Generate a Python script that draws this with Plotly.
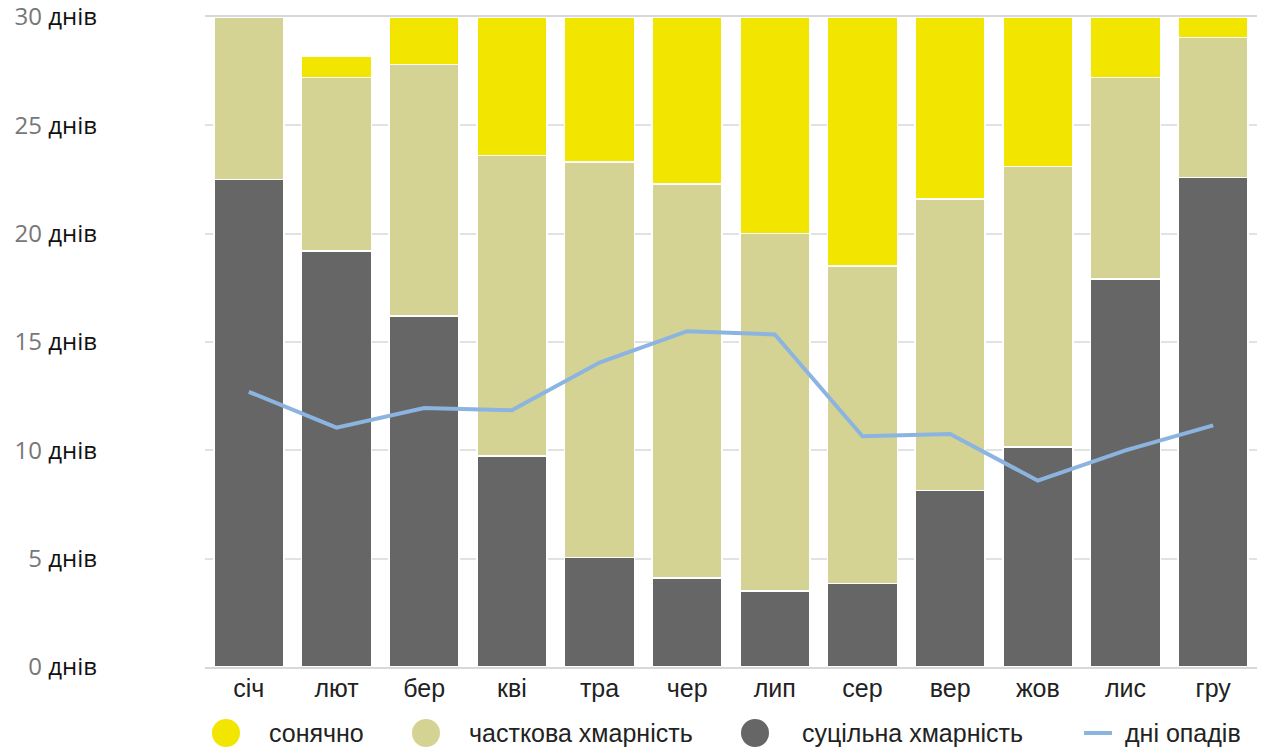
import plotly.graph_objects as go

# Monthly cloud-cover days and precipitation days
months = ["січ", "лют", "бер", "кві", "тра", "чер", "лип", "сер", "вер", "жов", "лис", "гру"]
overcast = [22.5, 19.2, 16.2, 9.75, 5.05, 4.1, 3.5, 3.85, 8.15, 10.15, 17.9, 22.6]
partly = [7.5, 8.0, 11.6, 13.85, 18.25, 18.2, 16.5, 14.65, 13.45, 12.95, 9.3, 6.45]
sunny = [0.0, 1.0, 2.2, 6.4, 6.7, 7.7, 10.0, 11.5, 8.4, 6.9, 2.8, 0.95]
precip_days = [12.7, 11.05, 11.95, 11.85, 14.05, 15.5, 15.35, 10.65, 10.75, 8.6, 10.0, 11.15]

y_ticks = [0, 5, 10, 15, 20, 25, 30]
y_tick_text = [f"<span style='color:#777777'>{v}</span> днів" for v in y_ticks]

legend_labels = ["сонячно", "часткова хмарність", "суцільна хмарність", "дні опадів"]

C_SUN = "#f2e500"
C_PART = "#d5d394"
C_OVER = "#666666"
C_RAIN = "#8cb4e0"

W, H = 1270, 751
ML, MR, MT, MB = 205, 13, 17, 84

fig = go.Figure()
for vals, col in [(overcast, C_OVER), (partly, C_PART), (sunny, C_SUN)]:
    fig.add_trace(go.Bar(
        x=months, y=vals, marker=dict(color=col, line=dict(color="white", width=1.5)),
        showlegend=False,
    ))
fig.add_trace(go.Scatter(
    x=months, y=precip_days, mode="lines",
    line=dict(color=C_RAIN, width=4), showlegend=False,
))

# Custom legend row below the axis
pw = W - ML - MR
ph = H - MT - MB


def px_x(p):
    return (p - ML) / pw


def px_y(p):
    return (H - MB - p) / ph


leg_y = px_y(733)
items = [
    (226, 267, C_SUN, "circle"),
    (426, 467, C_PART, "circle"),
    (755, 800, C_OVER, "circle"),
    (1098, 1123, C_RAIN, "line"),
]
shapes = []
annotations = []
for (cx, tx, col, kind), label in zip(items, legend_labels):
    if kind == "circle":
        shapes.append(dict(
            type="circle", xref="paper", yref="paper",
            xsizemode="pixel", ysizemode="pixel",
            xanchor=px_x(cx), yanchor=leg_y,
            x0=-14, x1=14, y0=-14, y1=14,
            fillcolor=col, line=dict(width=0),
        ))
    else:
        shapes.append(dict(
            type="line", xref="paper", yref="paper",
            xsizemode="pixel", ysizemode="pixel",
            xanchor=px_x(cx), yanchor=leg_y,
            x0=-14, x1=14, y0=0, y1=0,
            line=dict(color=col, width=4),
        ))
    annotations.append(dict(
        x=px_x(tx), y=leg_y, xref="paper", yref="paper",
        xanchor="left", yanchor="middle", showarrow=False,
        text=label, font=dict(family="Liberation Sans, Arial", size=25, color="#222222"),
    ))

fig.update_layout(
    width=W, height=H,
    margin=dict(l=ML, r=MR, t=MT, b=MB, pad=0),
    barmode="stack", bargap=0.2,
    plot_bgcolor="white", paper_bgcolor="white",
    shapes=shapes, annotations=annotations,
    xaxis=dict(
        tickfont=dict(family="Liberation Sans, Arial", size=25, color="#222222"),
        showgrid=False, showline=True, mirror=True, linecolor="#d8d8d8", linewidth=2,
        ticks="", ticklabelstandoff=-2, automargin=False,
    ),
    yaxis=dict(
        range=[0, 30], tickvals=y_ticks, ticktext=y_tick_text,
        tickfont=dict(family="Open Sans", size=24, color="#111111"),
        showgrid=True, gridcolor="#e2e2e2", gridwidth=2,
        zeroline=False, ticks="", ticklabelstandoff=107, automargin=False,
        ticklabeloverflow="allow",
    ),
)

fig.write_html("out.html")
